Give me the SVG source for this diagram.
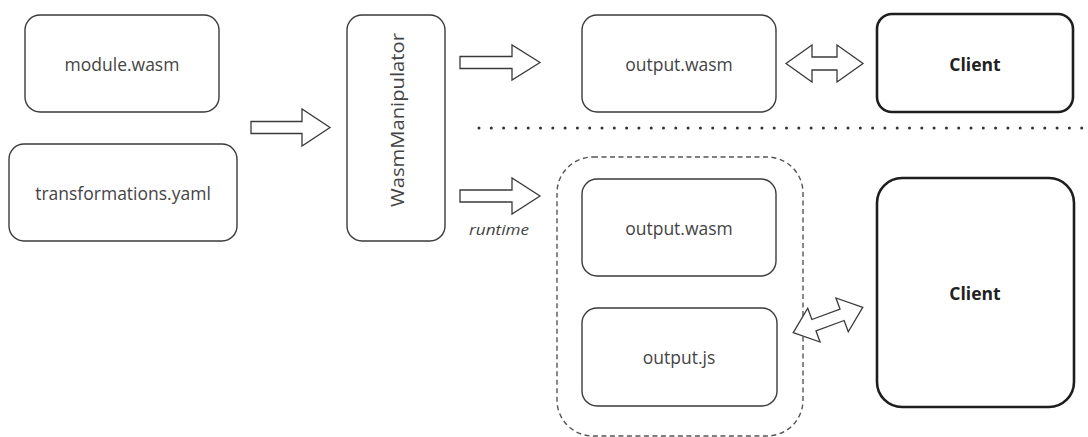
<svg xmlns="http://www.w3.org/2000/svg" width="1088" height="437" viewBox="0 0 1088 437">
  <style>
    .box { fill: #fff; stroke: #3a3a3a; stroke-width: 1.4; }
    .client { fill: #fff; stroke: #1e1e1e; stroke-width: 2.6; }
    .lbl { font-family: "Open Sans", "Noto Sans", sans-serif; font-size: 17.5px; fill: #444; text-anchor: middle; dominant-baseline: central; }
    .bold { font-weight: bold; fill: #222; }
    .arrow { fill: #fff; stroke: #3a3a3a; stroke-width: 1.3; stroke-linejoin: miter; }
    .group { fill: none; stroke: #555; stroke-width: 1.4; stroke-dasharray: 5 3.5; }
    .sep { fill: none; stroke: #333; stroke-width: 3; stroke-linecap: round; stroke-dasharray: 0 12.3; }
  </style>

  <!-- separator between the two pipelines -->
  <line class="sep" x1="479" y1="128" x2="1088" y2="128"/>

  <!-- runtime bundle container -->
  <rect class="group" x="557" y="157" width="246" height="279" rx="36"/>

  <g id="module-wasm">
    <rect class="box" x="25" y="15" width="194" height="97" rx="15"/>
    <text class="lbl" x="122" y="64">module.wasm</text>
  </g>
  <g id="transformations-yaml">
    <rect class="box" x="9" y="144" width="228" height="97" rx="15"/>
    <text class="lbl" x="123" y="193">transformations.yaml</text>
  </g>
  <g id="wasm-manipulator">
    <rect class="box" x="347" y="15" width="98" height="226" rx="15"/>
    <text class="lbl" transform="translate(397,120) rotate(-90)" x="0" y="0" textLength="174" lengthAdjust="spacingAndGlyphs">WasmManipulator</text>
  </g>
  <g id="output-wasm-static">
    <rect class="box" x="582" y="15" width="194" height="97" rx="15"/>
    <text class="lbl" x="679" y="64">output.wasm</text>
  </g>
  <g id="client-static">
    <rect class="client" x="877" y="14" width="196" height="98" rx="15"/>
    <text class="lbl bold" x="975" y="64">Client</text>
  </g>
  <g id="output-wasm-runtime">
    <rect class="box" x="582" y="179" width="194" height="97" rx="15"/>
    <text class="lbl" x="679" y="228">output.wasm</text>
  </g>
  <g id="output-js">
    <rect class="box" x="582" y="308" width="195" height="98" rx="15"/>
    <text class="lbl" x="679" y="357">output.js</text>
  </g>
  <g id="client-runtime">
    <rect class="client" x="877" y="178" width="197" height="229" rx="25"/>
    <text class="lbl bold" x="975" y="293">Client</text>
  </g>

  <g id="connectors">
    <!-- inputs into the manipulator -->
    <path class="arrow" d="M251,121.5 H302 V109 L330,127.5 L302,146 V133.5 H251 Z"/>
    <!-- static output -->
    <path class="arrow" d="M460,56.5 H512 V45 L540,62.5 L512,80 V68.5 H460 Z"/>
    <!-- runtime output -->
    <path class="arrow" d="M460,190 H512 V178 L540,196 L512,214 V202 H460 Z"/>
    <text x="469" y="235" font-family="Open Sans, Noto Sans, sans-serif" font-size="15" font-style="italic" fill="#444" textLength="60" lengthAdjust="spacingAndGlyphs">runtime</text>
    <!-- output.wasm <-> Client -->
    <path class="arrow" d="M786,63.5 L812,45 V57 H837 V45 L863,63.5 L837,82 V70 H812 V82 Z"/>
    <!-- output.js <-> Client -->
    <path class="arrow" transform="translate(828,320) rotate(-20)" d="M-37,0 L-15,-18 V-6 H15 V-18 L37,0 L15,18 V6 H-15 V18 Z"/>
  </g>
</svg>
